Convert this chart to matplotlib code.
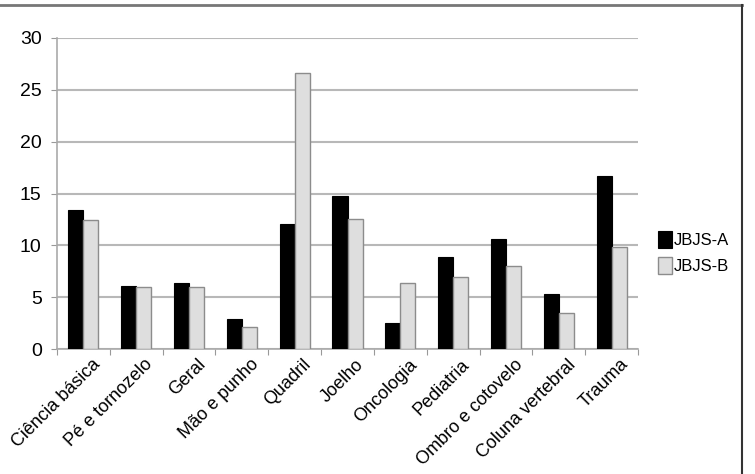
import matplotlib
matplotlib.use("Agg")
import matplotlib.pyplot as plt
import matplotlib.transforms as mtransforms
import numpy as np
from matplotlib.lines import Line2D

categories = ["Ciência básica", "Pé e tornozelo", "Geral", "Mão e punho", "Quadril",
              "Joelho", "Oncologia", "Pediatria", "Ombro e cotovelo", "Coluna vertebral", "Trauma"]
jbjs_a = [13.4, 6.1, 6.4, 2.9, 12.1, 14.75, 2.5, 8.9, 10.6, 5.3, 16.7]
jbjs_b = [12.4, 6.0, 6.0, 2.1, 26.6, 12.5, 6.4, 6.9, 8.0, 3.5, 9.8]
yticks = [0, 5, 10, 15, 20, 25, 30]

plt.rcParams['font.family'] = ['Liberation Sans', 'DejaVu Sans']

fig = plt.figure(figsize=(7.55, 4.74), dpi=100)
ax = fig.add_axes([57/755, 1-349/474, (638-57)/755, (349-38)/474])

x = np.arange(len(categories))
w = 0.285
ax.bar(x - w/2, jbjs_a, w, color="black", edgecolor="black", linewidth=0.8, label="JBJS-A", zorder=3)
ax.bar(x + w/2, jbjs_b, w, color="#dedede", edgecolor="#8c8c8c", linewidth=1.0, label="JBJS-B", zorder=3)

ax.set_xlim(-0.5, len(categories) - 0.5)
ax.set_ylim(0, 30)
ax.set_yticks(yticks)
ax.set_yticklabels([str(t) for t in yticks], fontsize=14)
ax.yaxis.grid(True, color="#b8b8b8", linewidth=1.5, zorder=0)
ax.set_axisbelow(True)

ax.set_xticks(np.arange(len(categories) + 1) - 0.5, minor=False)
ax.set_xticklabels([])
ax.set_xticks(x, minor=True)
ax.set_xticklabels(categories, minor=True, rotation=45, ha="right", va="top",
                   rotation_mode="anchor", fontsize=13)
ax.tick_params(axis="x", which="minor", length=0, pad=5)
ax.tick_params(axis="x", which="major", length=4, color="#999999", direction="out")
ax.tick_params(axis="y", length=4, color="#999999", pad=7)
offset = mtransforms.ScaledTranslation(8/100, 0, fig.dpi_scale_trans)
for lab in ax.get_xticklabels(minor=True):
    lab.set_transform(lab.get_transform() + offset)

for s in ["top", "right"]:
    ax.spines[s].set_visible(False)
for s in ["left", "bottom"]:
    ax.spines[s].set_color("#aaaaaa")
    ax.spines[s].set_linewidth(1.2)

ax.legend(loc="center left", bbox_to_anchor=(1.035, 0.31), frameon=False, fontsize=12,
          borderaxespad=0, borderpad=0,
          handlelength=0.8, handleheight=1.2, handletextpad=0.1, labelspacing=0.5)

# figure frame (top and right)
fig.add_artist(Line2D([0, 742/755], [1-5/474, 1-5/474], color="#777777", linewidth=2, transform=fig.transFigure))
fig.add_artist(Line2D([742/755, 742/755], [1-5/474, 0], color="#333333", linewidth=1.5, transform=fig.transFigure))

fig.savefig("out.png", dpi=100, facecolor="white")
